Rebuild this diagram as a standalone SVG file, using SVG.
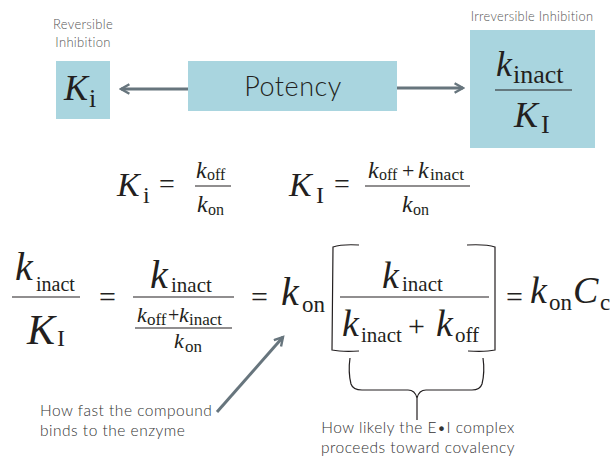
<svg xmlns="http://www.w3.org/2000/svg" width="615" height="458" viewBox="0 0 615 458">
<style>
.box{fill:#a9d5df}
.fl{stroke:#231f20;stroke-width:1.2;fill:none}
.arr{stroke:#67757d;stroke-width:3;fill:none}
</style>
<defs>
<marker id="ah" viewBox="0 0 10 10" refX="8" refY="5" markerWidth="4" markerHeight="4" orient="auto" markerUnits="strokeWidth">
<path d="M1,1 L8,5 L1,9" fill="none" stroke="#67757d" stroke-width="2"/>
</marker>
</defs>
<g id="connectors">
<line class="arr" x1="188" y1="89" x2="121" y2="89" marker-end="url(#ah)"/>
<line class="arr" x1="396" y1="88" x2="463" y2="88" marker-end="url(#ah)"/>
<line class="arr" x1="217" y1="412" x2="283" y2="337" marker-end="url(#ah)"/>
</g>
<g id="reversible">
<text font-family="Lato" font-weight="300" fill="#555" letter-spacing="0.3" x="83" y="29" font-size="13" text-anchor="middle">Reversible</text>
<text font-family="Lato" font-weight="300" fill="#555" letter-spacing="0.3" x="83" y="47" font-size="13" text-anchor="middle">Inhibition</text>
<rect class="box" x="56" y="61" width="54" height="58"/>
<text font-family="Liberation Serif" fill="#231f20" font-size="36"><tspan x="64" y="100" font-style="italic">K</tspan><tspan x="89" y="107" font-size="26">i</tspan></text>
</g>
<g id="potency">
<rect class="box" x="188" y="61" width="209" height="50"/>
<text x="293" y="96" font-size="27" text-anchor="middle" font-family="Lato" font-weight="300" letter-spacing="0.5" fill="#231f20">Potency</text>
</g>
<g id="irreversible">
<text font-family="Lato" font-weight="300" fill="#555" letter-spacing="0.3" x="532" y="21" font-size="12.8" text-anchor="middle">Irreversible Inhibition</text>
<rect class="box" x="470" y="30" width="125" height="118"/>
<text font-family="Liberation Serif" fill="#231f20" font-size="36"><tspan x="496" y="76" font-style="italic">k</tspan><tspan x="513" y="83" font-size="26">inact</tspan></text>
<line class="fl" x1="495" y1="90" x2="572" y2="90" stroke="#555"/>
<text font-family="Liberation Serif" fill="#231f20" font-size="36"><tspan x="514" y="127" font-style="italic">K</tspan><tspan x="541" y="133" font-size="26">I</tspan></text>
</g>
<g id="row1" font-family="Liberation Serif" fill="#231f20">
<text font-size="34"><tspan x="117" y="196" font-style="italic">K</tspan><tspan x="143" y="203" font-size="24">i</tspan></text>
<text x="159" y="193" font-size="28">=</text>
<text font-size="24"><tspan x="196" y="178" font-style="italic">k</tspan><tspan x="207" y="180" font-size="16">off</tspan></text>
<line class="fl" x1="195" y1="186" x2="231" y2="186"/>
<text font-size="24"><tspan x="197" y="212" font-style="italic">k</tspan><tspan x="208" y="215" font-size="16">on</tspan></text>
<text font-size="34"><tspan x="289" y="196" font-style="italic">K</tspan><tspan x="316" y="203" font-size="24">I</tspan></text>
<text x="334" y="193" font-size="28">=</text>
<text font-size="24"><tspan x="368" y="178" font-style="italic">k</tspan><tspan x="379" y="180" font-size="16">off</tspan><tspan x="402" y="178" font-size="22">+</tspan><tspan x="418" y="178" font-style="italic">k</tspan><tspan x="430" y="180" font-size="17.5">inact</tspan></text>
<line class="fl" x1="365" y1="186" x2="470" y2="186"/>
<text font-size="24"><tspan x="402" y="212" font-style="italic">k</tspan><tspan x="413" y="215" font-size="16">on</tspan></text>
</g>
<g id="row2" font-family="Liberation Serif" fill="#231f20">
<text font-size="40"><tspan x="15" y="280" font-style="italic">k</tspan><tspan x="36" y="291" font-size="20">inact</tspan></text>
<line class="fl" x1="12" y1="297" x2="80" y2="297"/>
<text font-size="42"><tspan x="27" y="344" font-style="italic">K</tspan><tspan x="57" y="346" font-size="24">I</tspan></text>
<text x="99" y="307" font-size="30">=</text>
<text font-size="40"><tspan x="150" y="288" font-style="italic">k</tspan><tspan x="171" y="292" font-size="21">inact</tspan></text>
<line class="fl" x1="133" y1="297" x2="234" y2="297"/>
<text font-size="22"><tspan x="137" y="322" font-style="italic">k</tspan><tspan x="147" y="325" font-size="17">off</tspan><tspan x="168" y="322" font-size="20">+</tspan><tspan x="179" y="322" font-style="italic">k</tspan><tspan x="189" y="325" font-size="17">inact</tspan></text>
<line class="fl" x1="135" y1="328" x2="232" y2="328"/>
<text font-size="22"><tspan x="174" y="348" font-style="italic">k</tspan><tspan x="185" y="352" font-size="17">on</tspan></text>
<text x="251" y="307" font-size="30">=</text>
<text font-size="40"><tspan x="281" y="305" font-style="italic">k</tspan><tspan x="302" y="312" font-size="23">on</tspan></text>
<path class="fl" d="M359,245 Q342,244 333,247 L332,350 Q342,352 359,351"/>
<text font-size="38"><tspan x="382" y="288" font-style="italic">k</tspan><tspan x="402" y="291" font-size="21">inact</tspan></text>
<line class="fl" x1="340" y1="297" x2="489" y2="297"/>
<text font-size="38"><tspan x="342" y="336" font-style="italic">k</tspan><tspan x="361" y="342" font-size="21">inact</tspan><tspan x="408" y="336" font-size="30">+</tspan><tspan x="436" y="336" font-style="italic">k</tspan><tspan x="455" y="342" font-size="21">off</tspan></text>
<path class="fl" d="M467,245 Q486,244 495,247 L495,350 Q486,352 468,351"/>
<text x="506" y="307" font-size="30">=</text>
<text font-size="38"><tspan x="530" y="303" font-style="italic">k</tspan><tspan x="549" y="310" font-size="23">on</tspan><tspan x="573" y="303" font-style="italic">C</tspan><tspan x="600" y="310" font-size="23">c</tspan></text>
</g>
<g id="brace">
<path class="fl" d="M350,358 Q348,372 351,384 Q353,390 362,390 L408,390 Q415,390 417,398 L417,420 M417,420 L417,398 Q419,390 426,390 L472,390 Q480,390 482,384 Q485,372 483,358"/>
</g>
<g id="notes" font-family="Lato" font-weight="300" font-size="15.5" fill="#333" letter-spacing="0.5">
<text x="40" y="416">How fast the compound</text>
<text x="40" y="436">binds to the enzyme</text>
<text x="418" y="433" text-anchor="middle">How likely the E•I complex</text>
<text x="418" y="453" text-anchor="middle">proceeds toward covalency</text>
</g>
</svg>
